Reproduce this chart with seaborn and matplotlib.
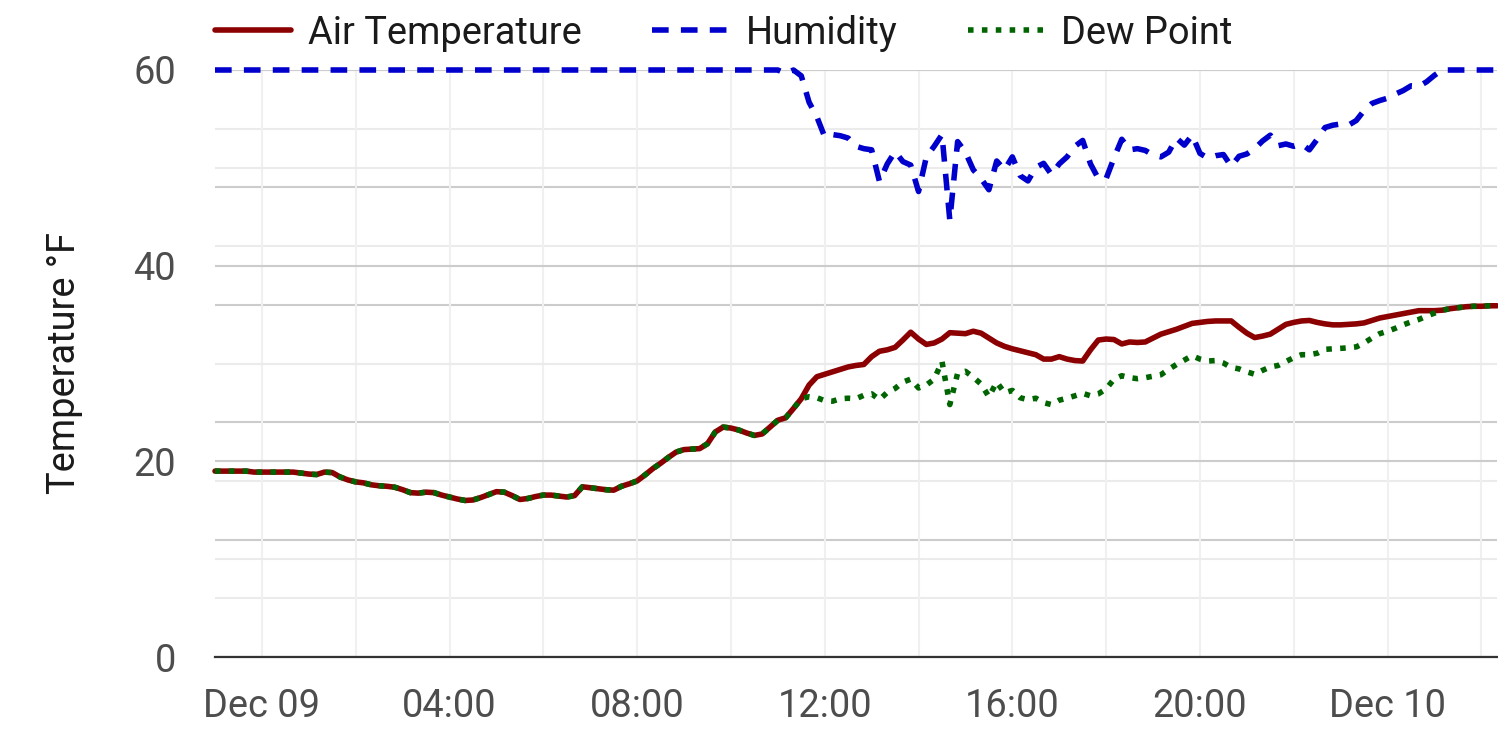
import pandas as pd
import matplotlib
matplotlib.use("Agg")
import matplotlib.pyplot as plt
import matplotlib.dates as mdates
from matplotlib.ticker import MultipleLocator, FuncFormatter
import seaborn as sns

# readings every 10 minutes, starting Dec 08 23:00
start_time = "2023-12-08 23:00"
step = "10min"

# air temperature, deg F (one row = one hour)
air_temp = [
    19.0, 19.0, 19.0, 19.0, 19.0, 18.9,
    18.9, 18.9, 18.9, 18.9, 18.9, 18.8,
    18.7, 18.65, 18.9, 18.85, 18.4, 18.1,
    17.9, 17.8, 17.6, 17.5, 17.45, 17.35,
    17.1, 16.8, 16.75, 16.85, 16.8, 16.55,
    16.35, 16.15, 16.0, 16.05, 16.3, 16.6,
    16.9, 16.85, 16.5, 16.1, 16.2, 16.4,
    16.55, 16.55, 16.45, 16.35, 16.5, 17.4,
    17.3, 17.2, 17.1, 17.05, 17.45, 17.7,
    18.0, 18.6, 19.25, 19.8, 20.4, 20.95,
    21.2, 21.25, 21.3, 21.8, 23.0, 23.5,
    23.4, 23.2, 22.9, 22.65, 22.8, 23.5,
    24.2, 24.45, 25.4, 26.4, 27.8, 28.65,
    28.9, 29.15, 29.4, 29.65, 29.8, 29.9,
    30.7, 31.25, 31.4, 31.65, 32.4, 33.2,
    32.5, 31.95, 32.1, 32.5, 33.15, 33.1,
    33.05, 33.3, 33.1, 32.6, 32.1, 31.75,
    31.5, 31.3, 31.1, 30.9, 30.45, 30.45,
    30.7, 30.45, 30.3, 30.25, 31.4, 32.4,
    32.5, 32.45, 32.0, 32.2, 32.15, 32.2,
    32.6, 33.0, 33.25, 33.5, 33.8, 34.1,
    34.2, 34.3, 34.35, 34.35, 34.35, 33.7,
    33.1, 32.65, 32.8, 33.0, 33.5, 34.0,
    34.2, 34.35, 34.4, 34.2, 34.05, 33.95,
    33.95, 34.0, 34.05, 34.15, 34.4, 34.65,
    34.8, 34.95, 35.1, 35.25, 35.4, 35.4,
    35.4, 35.45, 35.6, 35.7, 35.8, 35.85,
    35.85, 35.9, 35.9,
]

# dew point, deg F
dew_point = [
    19.0, 19.0, 19.0, 19.0, 19.0, 18.9,
    18.9, 18.9, 18.9, 18.9, 18.9, 18.8,
    18.7, 18.65, 18.9, 18.85, 18.4, 18.1,
    17.9, 17.8, 17.6, 17.5, 17.45, 17.35,
    17.1, 16.8, 16.75, 16.85, 16.8, 16.55,
    16.35, 16.15, 16.0, 16.05, 16.3, 16.6,
    16.9, 16.85, 16.5, 16.1, 16.2, 16.4,
    16.55, 16.55, 16.45, 16.35, 16.5, 17.4,
    17.3, 17.2, 17.1, 17.05, 17.45, 17.7,
    18.0, 18.6, 19.25, 19.8, 20.4, 20.95,
    21.2, 21.25, 21.3, 21.8, 23.0, 23.5,
    23.4, 23.2, 22.9, 22.65, 22.8, 23.5,
    24.2, 24.45, 25.4, 26.4, 26.6, 26.5,
    26.2, 26.15, 26.4, 26.45, 26.4, 26.75,
    26.9, 26.3, 27.05, 27.45, 28.1, 28.4,
    27.5, 27.8, 28.4, 30.2, 25.8, 29.0,
    29.2, 28.6, 27.9, 26.6, 28.1, 27.0,
    27.25, 26.5, 26.3, 26.45, 26.0, 25.8,
    26.25, 26.45, 26.7, 26.95, 26.7, 26.9,
    27.4, 28.4, 28.75, 28.55, 28.45, 28.55,
    28.7, 28.85, 29.4, 29.9, 30.35, 30.8,
    30.45, 30.25, 30.3, 30.05, 29.6, 29.45,
    29.15, 28.9, 29.3, 29.65, 29.8, 30.2,
    30.6, 30.9, 30.9, 31.05, 31.45, 31.5,
    31.55, 31.6, 31.7, 32.1, 32.6, 33.05,
    33.3, 33.6, 33.95, 34.25, 34.5, 34.85,
    35.15, 35.45, 35.6, 35.7, 35.8, 35.85,
    35.85, 35.9, 35.9,
]

# relative humidity, % (drawn against the hidden right scale 0-100)
humidity = [
    100, 100, 100, 100, 100, 100,
    100, 100, 100, 100, 100, 100,
    100, 100, 100, 100, 100, 100,
    100, 100, 100, 100, 100, 100,
    100, 100, 100, 100, 100, 100,
    100, 100, 100, 100, 100, 100,
    100, 100, 100, 100, 100, 100,
    100, 100, 100, 100, 100, 100,
    100, 100, 100, 100, 100, 100,
    100, 100, 100, 100, 100, 100,
    100, 100, 100, 100, 100, 100,
    100, 100, 100, 100, 100, 100,
    100, 99.4, 100, 99.0, 94.5, 92.0,
    88.6, 89.0, 88.8, 88.4, 87.0, 86.6,
    86.4, 81.0, 84.0, 86.1, 84.4, 83.8,
    79.3, 85.2, 87.0, 89.0, 74.4, 87.8,
    86.0, 83.0, 81.5, 79.6, 84.5, 83.0,
    85.2, 82.0, 81.1, 83.4, 84.1, 82.2,
    84.0, 85.2, 87.0, 88.0, 84.0, 81.5,
    81.5, 85.0, 88.2, 86.4, 86.6, 86.3,
    85.5, 85.2, 86.0, 88.4, 87.2, 88.9,
    85.8, 85.0, 85.4, 85.6, 83.6, 85.3,
    85.7, 86.6, 87.9, 88.9, 87.1, 87.4,
    87.0, 87.4, 86.4, 88.2, 90.2, 90.6,
    90.8, 90.6, 91.4, 93.1, 94.3, 94.8,
    95.2, 95.9, 96.5, 97.3, 97.2, 98.0,
    99.1, 100, 100, 100, 100, 100,
    100, 100, 100,
]

times = pd.date_range(start_time, periods=len(air_temp), freq=step)
df = pd.DataFrame({"time": times, "air": air_temp, "dew": dew_point, "hum": humidity})

sns.set_theme(style="white")
plt.rcParams["font.family"] = ["Roboto", "DejaVu Sans"]
fs = 13.7

W, H = 1498, 747
fig = plt.figure(figsize=(W / 200, H / 200), dpi=200)
fig.patch.set_facecolor("white")

# temperature axes in front, grid for the humidity scale behind, humidity line on top
ax = fig.add_axes([215 / W, 90 / H, 1282 / W, 587 / H])
ax_grid = ax.twinx()
ax_hum = ax.twinx()
ax_grid.set_zorder(0)
ax.set_zorder(1)
ax_hum.set_zorder(2)
ax.patch.set_visible(False)
ax_hum.patch.set_visible(False)
ax_grid.patch.set_facecolor("white")

dark_grid = "#CCCCCC"
light_grid = "#EBEBEB"
gw = 0.75
lw = 2.0

sns.lineplot(data=df, x="time", y="air", ax=ax, color="#8B0000", linewidth=lw,
             label="Air Temperature", legend=False)
sns.lineplot(data=df, x="time", y="dew", ax=ax, color="#006400", linewidth=lw,
             label="Dew Point", legend=False)
sns.lineplot(data=df, x="time", y="hum", ax=ax_hum, color="#0000CD", linewidth=lw,
             label="Humidity", legend=False)

air_line, dew_line = ax.lines[0], ax.lines[1]
hum_line = ax_hum.lines[0]
dew_line.set_linestyle((0, (1, 1.5)))
hum_line.set_linestyle((0, (3, 2.2)))
for ln in (air_line, dew_line, hum_line):
    ln.set_clip_on(False)

ax.set_xlim(times[0], times[-1])
ax.set_ylim(0, 60)
ax_grid.set_ylim(0, 100)
ax_hum.set_ylim(0, 100)

# left scale grid
ax.yaxis.set_major_locator(MultipleLocator(20))
ax.yaxis.set_minor_locator(MultipleLocator(10))
ax.grid(which="major", axis="y", color=dark_grid, linewidth=gw)
ax.grid(which="minor", axis="y", color=light_grid, linewidth=gw)

# right (humidity) scale grid, labels hidden
ax_grid.yaxis.set_major_locator(MultipleLocator(20))
ax_grid.yaxis.set_minor_locator(MultipleLocator(10))
ax_grid.grid(which="major", axis="y", color=dark_grid, linewidth=gw)
ax_grid.grid(which="minor", axis="y", color=light_grid, linewidth=gw)
ax_grid.tick_params(which="both", length=0, labelright=False)
ax_hum.tick_params(which="both", length=0, labelright=False)
ax_hum.grid(False)

# time axis
def time_label(x, pos):
    d = mdates.num2date(x)
    return d.strftime("%b %d") if d.hour == 0 else d.strftime("%H:%M")

ax.xaxis.set_major_locator(mdates.HourLocator(byhour=range(0, 24, 4)))
ax.xaxis.set_minor_locator(mdates.HourLocator(byhour=range(2, 24, 4)))
ax.xaxis.set_major_formatter(FuncFormatter(time_label))
ax.grid(which="both", axis="x", color="#F0F0F0", linewidth=gw)

ax.tick_params(axis="x", which="both", length=0, pad=11, labelsize=fs, labelcolor="#4D4D4D")
ax.tick_params(axis="y", which="both", length=0, pad=14, labelsize=fs, labelcolor="#4D4D4D")

ax.set_xlabel("")
ax.set_ylabel("Temperature °F", fontsize=fs, color="#1A1A1A", labelpad=18)
for a in (ax_grid, ax_hum):
    a.set_ylabel("")

for a in (ax, ax_grid, ax_hum):
    for s in a.spines.values():
        s.set_visible(False)
ax.spines["bottom"].set_visible(True)
ax.spines["bottom"].set_color("#333333")
ax.spines["bottom"].set_linewidth(0.8)

leg = fig.legend([air_line, hum_line, dew_line], ["Air Temperature", "Humidity", "Dew Point"],
                 loc="center left", bbox_to_anchor=(215 / W, 1 - 33 / H), ncol=3,
                 frameon=False, fontsize=fs, handlelength=2.0, handletextpad=0.45,
                 columnspacing=1.85, borderpad=0, borderaxespad=0)
for t in leg.get_texts():
    t.set_color("#1A1A1A")

fig.savefig("out.png", dpi=200, facecolor="white")
